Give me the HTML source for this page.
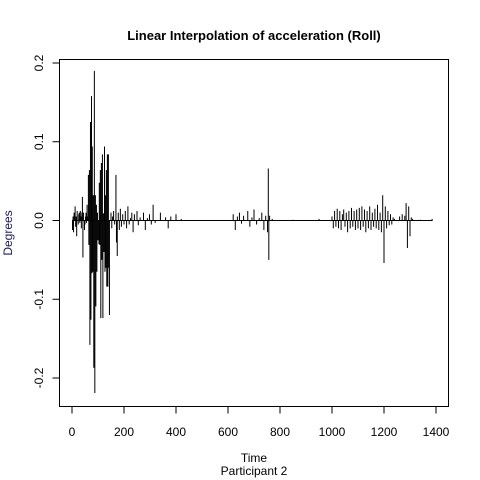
<!DOCTYPE html>
<html><head><meta charset="utf-8"><style>
body{margin:0;background:#fff}
svg{display:block;font-family:"Liberation Sans",sans-serif}
</style></head><body>
<svg id="chart" width="480" height="480" viewBox="0 0 480 480">
<rect x="0" y="0" width="480" height="480" fill="#fff"/>
<text x="254" y="40" text-anchor="middle" font-size="13" font-weight="bold">Linear Interpolation of acceleration (Roll)</text>
<rect x="59.5" y="59.5" width="389" height="347" fill="none" stroke="#000"/>
<text x="254" y="462" text-anchor="middle" font-size="12">Time</text>
<text x="254" y="475" text-anchor="middle" font-size="12">Participant  2</text>
<text transform="translate(12,233) rotate(-90)" text-anchor="middle" font-size="12" fill="#1a1a5a">Degrees</text>
<g id="axes"></g>
<polyline id="series" fill="none" stroke="#000" stroke-width="1"/>
</svg>
<script>
const xTicks=[0,200,400,600,800,1000,1200,1400];
const yTicks=[-0.2,-0.1,0.0,0.1,0.2];
const yTickLabels=["-0.2","-0.1","0.0","0.1","0.2"];
const times=[0,2,4,6,8,10,12,14,16,18,20,22,24,26,28,30,32,34,36,38,40,42,44,46,48,50,52,54,56,58,60,
63,64.8,67,68.8,71,72.8,75,76.8,78,79.8,82,83.8,86,87.8,90,91.8,94,95.8,98,99.8,102,103.8,105,106.8,109,110.8,113,114.8,117,118.8,121,122.8,125,126.8,128,129.8,132,133.8,136,137.8,140,141.8,144,145.8,
150,153,156,160,164,169,171,174,178,182,186,190,195,200,205,210,215,220,225,230,235,240,245,250,255,262,268,275,282,290,298,305,312,320,330,340,350,360,370,380,390,400,420,440,
620,628,636,644,652,660,668,676,684,692,700,710,720,730,738,745,752,755,757,760,765,770,800,850,900,950,
1000,1005,1010,1015,1020,1025,1030,1035,1040,1045,1050,1055,1060,1065,1070,1075,1080,1085,1090,1095,1100,1105,1110,1115,1120,1125,1130,1135,1140,1145,1150,1155,1160,1165,1170,1175,1180,1185,1190,1195,1200,1205,1210,1215,1220,1225,1230,1235,1240,1250,1260,1270,1280,1285,1290,1295,1300,1305,1310,1320,1340,1360,1385];
const values=[0,-0.012,0.005,-0.015,0.01,0,0.018,-0.008,0.005,-0.02,0.012,0,-0.005,0.008,0.01,-0.003,0.012,0.005,-0.01,0.01,0.03,-0.047,0.01,0,-0.012,-0.005,0.005,0.01,-0.003,0.02,0.005,
0.058,-0.031,0.064,-0.158,0.125,-0.126,0.158,-0.067,0.094,-0.065,0.032,-0.187,0.19,-0.219,0.032,-0.109,0.02,-0.065,0.01,-0.025,0.0,-0.03,0.048,-0.031,0.064,-0.124,0.073,-0.05,0.084,-0.124,0.009,-0.04,0.094,-0.065,0.032,-0.06,0.064,-0.084,0.084,-0.084,0.084,-0.06,-0.12,0,
0.01,-0.01,0.005,0.012,-0.005,0.058,-0.028,-0.045,0.01,-0.012,0.015,-0.008,0.008,-0.005,0.012,-0.01,0.018,-0.005,0.003,0.01,-0.015,0.008,0,0.012,-0.006,0.004,0,0.01,-0.012,0.003,0.008,-0.005,0.02,-0.003,0,0.01,0,0.004,-0.01,0.005,0,0.008,0.002,0,
0.008,-0.012,0.005,0.01,-0.004,0.006,0,0.012,-0.008,0.004,0.014,-0.005,0.003,0.01,-0.012,0.006,-0.015,0.066,-0.05,0.006,0,0.002,0,0.001,0,0.002,
0.005,-0.01,0.012,-0.008,0.015,-0.01,0.012,-0.012,0.008,0.014,-0.008,0.01,-0.015,0.012,-0.01,0.016,-0.008,0.012,-0.012,0.014,-0.01,0.016,-0.012,0.018,-0.008,0.014,-0.015,0.012,-0.01,0.018,-0.012,0.01,-0.008,0.015,-0.01,0.02,-0.012,0.01,-0.015,0.032,-0.054,0.018,-0.01,0.012,-0.006,0.008,-0.005,0.004,0.002,0,0.005,0.008,0.006,0.022,-0.035,0.018,-0.02,0.004,0.002,0,0.001,0,0.002];
const X0=72,XS=0.26,Y0=220.5,YS=787.5;
function xScale(t){return X0+t*XS;}
function yScale(v){return Y0-v*YS;}
const ns="http://www.w3.org/2000/svg";
const axes=document.getElementById('axes');
function mk(tag,attrs){const e=document.createElementNS(ns,tag);for(const k in attrs)e.setAttribute(k,attrs[k]);axes.appendChild(e);return e;}
const xl=mk('line',{x1:xScale(0),x2:xScale(1400),y1:406.5,y2:406.5,stroke:'#000'});


xTicks.forEach(t=>{
  const l=mk('line',{x1:xScale(t),x2:xScale(t),y1:406.5,y2:413.5,stroke:'#000'});
  
  
  const tx=mk('text',{x:xScale(t),y:436,'text-anchor':'middle','font-size':12});
  tx.textContent=t;
  
  
});
const yl=mk('line',{x1:59.5,x2:59.5,y1:yScale(-0.2),y2:yScale(0.2),stroke:'#000'});


yTicks.forEach((v,i)=>{
  const y=yScale(v);
  const l=mk('line',{x1:52.5,x2:59.5,y1:y,y2:y,stroke:'#000'});
  
  
  const tx=mk('text',{transform:`translate(43,${y}) rotate(-90)`,'text-anchor':'middle','font-size':12});
  tx.textContent=yTickLabels[i];
  
  
});
const pts=[];
times.forEach((t,i)=>{
  const x=xScale(t).toFixed(2),y0=yScale(0).toFixed(2),y=yScale(values[i]).toFixed(2);
  pts.push(x+','+y0,x+','+y,x+','+y0);
});
pts.push(xScale(1385).toFixed(2)+','+yScale(0).toFixed(2));
document.getElementById('series').setAttribute('points',pts.join(' '));
</script>
</body></html>
